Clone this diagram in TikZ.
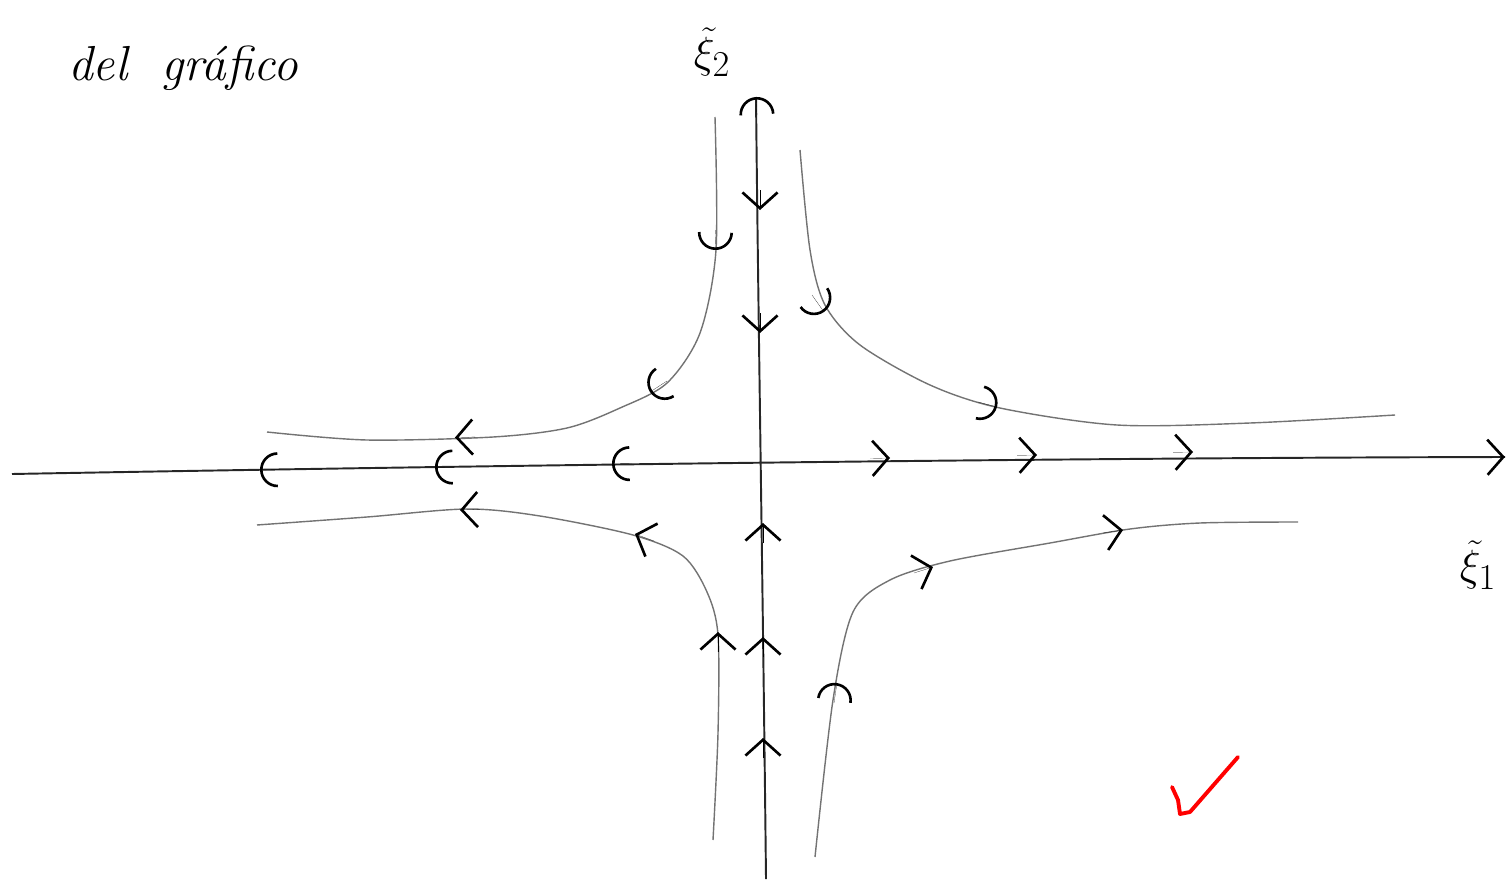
\documentclass[tikz,border=0pt]{standalone}
\usetikzlibrary{arrows.meta}
\begin{document}
\begin{tikzpicture}[x={(0.02cm,0)},y={(0,-0.02cm)},
  axisline/.style={line width=1.1pt,black!85},
  traj/.style={line width=0.8pt,black!55},
  sharptip/.style={line width=0.1pt,-{Straight Barb[length=9pt,width=20pt,line width=1.5pt]}},
  arctip/.style={line width=0.1pt,-{Arc Barb[length=10pt,width=20pt,line width=1.5pt]}},
  lbl/.style={font=\fontsize{30}{34}\selectfont, inner sep=0pt},
  handtext/.style={font=\fontsize{28}{32}\selectfont\itshape, inner sep=0pt, anchor=west}]
\useasboundingbox (0,0) rectangle (1511,879);
% axes
\coordinate (xl) at (12,474);
\coordinate (xr) at (1505,457);
\coordinate (yt) at (756,97);
\coordinate (yb) at (766,879);
\draw[axisline] (xl) .. controls (400,467) and (1000,458) .. (xr);
\draw[axisline] (yb) .. controls (763,600) and (758,300) .. (yt);
\draw[sharptip] (1490,457.2) -- (xr);
\draw[arctip] (757,115) -- (yt);
% arrows on the x axis
\draw[arctip] (280,469.7) -- (260,470);
\draw[arctip] (455,467) -- (435,467.3);
\draw[arctip] (632,463.6) -- (612,464);
\draw[sharptip] (870,458.4) -- (890,458);
\draw[sharptip] (1017,455.3) -- (1037,455);
\draw[sharptip] (1173,452.3) -- (1193,452);
% arrows on the y axis
\draw[sharptip] (760,190) -- (760,210);
\draw[sharptip] (760,313) -- (760,333);
\draw[sharptip] (763,543) -- (763,523);
\draw[sharptip] (763,657) -- (763,637);
\draw[sharptip] (763,758) -- (763,738);
% trajectories
\draw[traj] plot[smooth] coordinates {(715,117) (716,250) (700,333) (667,383) (620,408) (567,428) (493,437) (367,440) (267,432)};
\draw[traj] plot[smooth] coordinates {(800,150) (810,250) (825,305) (860,345) (930,385) (1000,408) (1117,425) (1250,423) (1395,415)};
\draw[traj] plot[smooth] coordinates {(257,525) (367,517) (467,509) (540,516) (633,535) (683,556) (707,592) (718,635) (718,733) (713,840)};
\draw[traj] plot[smooth] coordinates {(815,857) (833,700) (853,612) (890,580) (950,561) (1050,543) (1130,529) (1200,523) (1298,522)};
% arrows on the trajectories
\draw[arctip] (715.5,230) -- (715,250);
\draw[arctip] (667,381) -- (650,392);
\draw[sharptip] (475,437) -- (455,437.5);
\draw[arctip] (812,295) -- (824,312);
\draw[arctip] (978,402) -- (997,407);
\draw[sharptip] (480,509.5) -- (460,510);
\draw[sharptip] (654,541) -- (635,534);
\draw[sharptip] (718,652) -- (718,632);
\draw[arctip] (834,703) -- (837,683);
\draw[sharptip] (914,573) -- (933,567);
\draw[sharptip] (1103,533) -- (1123,530);
% labels
\node[lbl] (l2) at (712,52) {$\tilde{\xi}_2$};
\node[lbl] (l1) at (1478,565) {$\tilde{\xi}_1$};
\node[handtext] (t) at (68,68) {del \ gr\'afico};
% red check mark
\draw[red,line width=2.2pt,line cap=round,line join=round]
  (1172,787) -- (1178,800) -- (1180,814) -- (1190,812) -- (1238,757);
\end{tikzpicture}
\end{document}
